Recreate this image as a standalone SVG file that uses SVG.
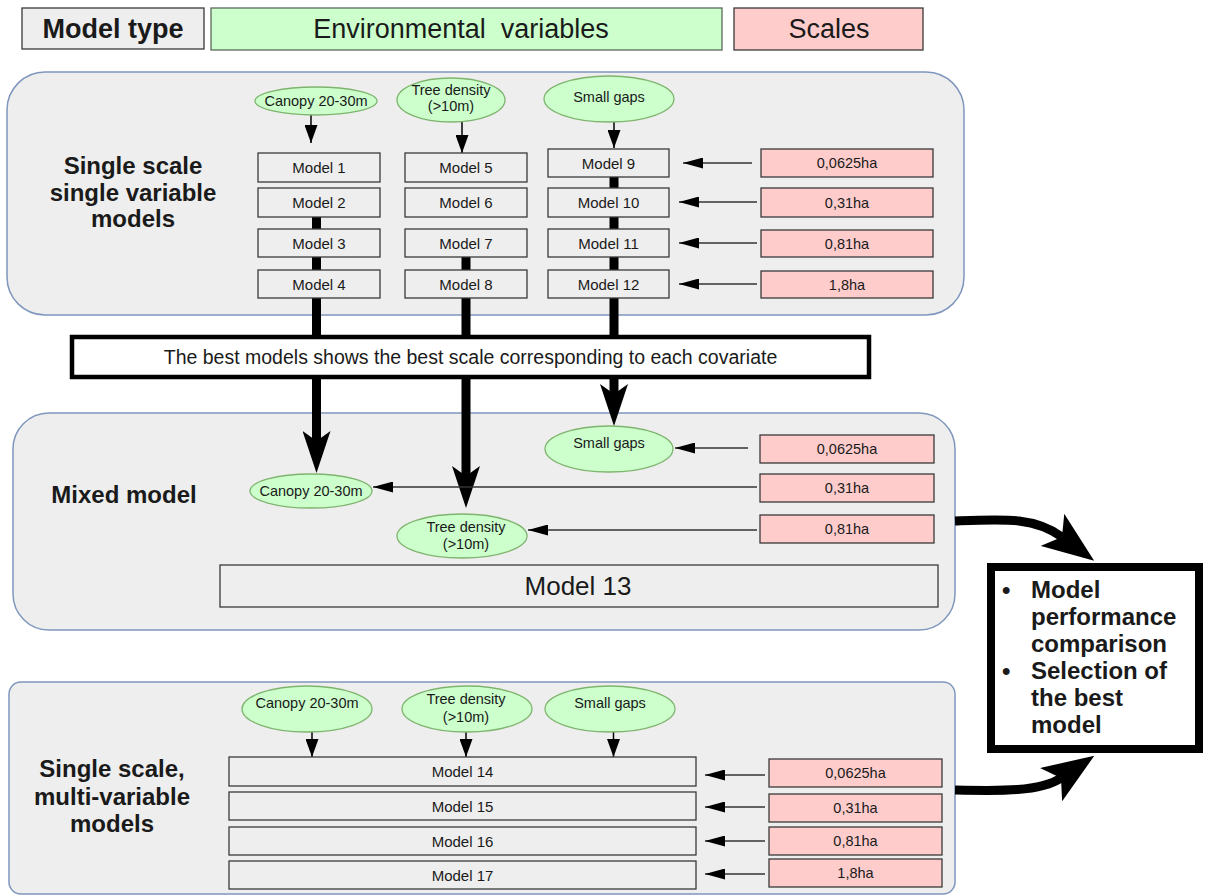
<svg xmlns="http://www.w3.org/2000/svg" width="1206" height="896" viewBox="0 0 1206 896">
<style>
.panel{fill:#eeeeee;stroke:#7f97bd;stroke-width:1.5}
.box{fill:#eeeeee;stroke:#3a3a3a;stroke-width:1.3}
.scale{fill:#ffcccc;stroke:#3a3a3a;stroke-width:1.3}
.var{fill:#ccffcc;stroke:#7fb46e;stroke-width:1.3}
text{font-family:"Liberation Sans",Arial,sans-serif;fill:#1a1a1a}
.tm{font-size:15px;text-anchor:middle}
.ts{font-size:14.5px;text-anchor:middle}
.te{font-size:14.5px;text-anchor:middle}
.lbl{font-size:24px;font-weight:bold;text-anchor:middle}
.hd{font-size:27px;text-anchor:middle}
.thin{stroke:#333;stroke-width:1.5;fill:none}
.thick{stroke:#000;stroke-width:9;fill:none}
</style>
<defs>
<marker id="sa" markerUnits="userSpaceOnUse" markerWidth="18" markerHeight="13" viewBox="0 0 18 13" refX="18" refY="6.5" orient="auto"><path d="M0,0 L18,6.5 L0,13 z" fill="#000"/></marker>
<marker id="ha" markerUnits="userSpaceOnUse" markerWidth="20" markerHeight="11" viewBox="0 0 20 11" refX="20" refY="5.5" orient="auto"><path d="M0,0 L20,5.5 L0,11 z" fill="#000"/></marker>
<marker id="big" markerUnits="userSpaceOnUse" markerWidth="42" markerHeight="28" viewBox="0 0 42 28" refX="10" refY="14" orient="auto"><path d="M0,0 L42,14 L0,28 L10,14 z" fill="#000"/></marker>
<marker id="big2" markerUnits="userSpaceOnUse" markerWidth="52" markerHeight="40" viewBox="0 0 52 40" refX="12" refY="20" orient="auto"><path d="M0,0 L52,20 L0,40 L12,20 z" fill="#000"/></marker>
</defs>
<rect width="1206" height="896" fill="#ffffff"/>

<g id="header">
<rect x="22" y="8" width="182" height="41" class="box"/>
<text class="hd" x="113" y="38" style="font-weight:bold">Model type</text>
<rect x="211" y="8" width="511" height="42" class="var" style="stroke:#5a6a5a"/>
<text class="hd" x="461" y="38">Environmental&#160; variables</text>
<rect x="734" y="8" width="189" height="42" class="scale"/>
<text class="hd" x="829" y="38">Scales</text>
</g>

<g id="panel1">
<rect x="7" y="72" width="957" height="243" rx="38" ry="38" class="panel"/>
<text class="lbl" x="133" y="174">Single scale</text>
<text class="lbl" x="133" y="201">single variable</text>
<text class="lbl" x="133" y="227">models</text>
</g>

<g id="panel2">
<rect x="13" y="413" width="942" height="217" rx="36" ry="36" class="panel"/>
<text class="lbl" x="124" y="503">Mixed model</text>
</g>

<g id="panel3">
<rect x="9" y="682" width="946" height="212" rx="12" ry="12" class="panel"/>
<text class="lbl" x="112" y="777">Single scale,</text>
<text class="lbl" x="112" y="805">multi-variable</text>
<text class="lbl" x="112" y="832">models</text>
</g>

<g id="connectors">
<path class="thick" d="M316.5,217 V340"/>
<path class="thick" d="M466,257 V340"/>
<path class="thick" d="M614,177 V340"/>
<path class="thick" d="M316.5,375 V441" marker-end="url(#big)"/>
<path class="thick" d="M466,375 V476" marker-end="url(#big)"/>
<path class="thick" d="M614,375 V394" marker-end="url(#big)"/>
<path class="thin" style="stroke:#000" d="M311,115 V143" marker-end="url(#sa)"/>
<path class="thin" style="stroke:#000" d="M462,122 V153" marker-end="url(#sa)"/>
<path class="thin" style="stroke:#000" d="M614,122 V148" marker-end="url(#sa)"/>
<path class="thin" d="M752,163 H683" marker-end="url(#ha)"/>
<path class="thin" d="M757,202 H679" marker-end="url(#ha)"/>
<path class="thin" d="M757,243 H679" marker-end="url(#ha)"/>
<path class="thin" d="M757,284 H679" marker-end="url(#ha)"/>
<path class="thin" d="M748,448 H675" marker-end="url(#ha)"/>
<path class="thin" d="M757,487 H373" marker-end="url(#ha)"/>
<path class="thin" d="M757,530 H528" marker-end="url(#ha)"/>
<path class="thin" style="stroke:#000" d="M312,732 V757" marker-end="url(#sa)"/>
<path class="thin" style="stroke:#000" d="M466,732 V757" marker-end="url(#sa)"/>
<path class="thin" style="stroke:#000" d="M613.5,732 V757" marker-end="url(#sa)"/>
<path class="thin" d="M765,775 H705" marker-end="url(#ha)"/>
<path class="thin" d="M765,807 H705" marker-end="url(#ha)"/>
<path class="thin" d="M765,841 H705" marker-end="url(#ha)"/>
<path class="thin" d="M765,874 H705" marker-end="url(#ha)"/>
<path class="thick" d="M955,521 C1005,519 1035,517 1062,537" marker-end="url(#big2)"/>
<path class="thick" d="M955,790 C1000,791 1040,792 1061,778" marker-end="url(#big2)"/>
</g>

<g id="best">
<rect x="72" y="337" width="797" height="40" fill="#ffffff" stroke="#000" stroke-width="4.5"/>
<text x="470.5" y="364" style="font-size:19.5px;text-anchor:middle">The best models shows the best scale corresponding to each covariate</text>
</g>

<g id="p1-vars">
<ellipse cx="316" cy="101" rx="61" ry="14" class="var"/>
<text class="te" x="316" y="106">Canopy 20-30m</text>
<ellipse cx="451" cy="100" rx="54" ry="22" class="var"/>
<text class="te" x="451" y="95">Tree density</text>
<text class="te" x="451" y="111">(&gt;10m)</text>
<ellipse cx="609" cy="99" rx="65" ry="23" class="var"/>
<text class="te" x="609" y="102">Small gaps</text>
</g>

<g id="p1-models">
<rect x="258" y="153" width="122" height="29" class="box"/><text class="tm" x="319" y="173">Model 1</text>
<rect x="258" y="188" width="122" height="29" class="box"/><text class="tm" x="319" y="208">Model 2</text>
<rect x="258" y="229" width="122" height="28" class="box"/><text class="tm" x="319" y="248.5">Model 3</text>
<rect x="258" y="270" width="122" height="28" class="box"/><text class="tm" x="319" y="289.5">Model 4</text>
<rect x="405" y="153" width="122" height="29" class="box"/><text class="tm" x="466" y="173">Model 5</text>
<rect x="405" y="188" width="122" height="29" class="box"/><text class="tm" x="466" y="208">Model 6</text>
<rect x="405" y="229" width="122" height="28" class="box"/><text class="tm" x="466" y="248.5">Model 7</text>
<rect x="405" y="270" width="122" height="28" class="box"/><text class="tm" x="466" y="289.5">Model 8</text>
<rect x="548" y="149" width="121" height="28" class="box"/><text class="tm" x="608.5" y="168.5">Model 9</text>
<rect x="548" y="188" width="121" height="29" class="box"/><text class="tm" x="608.5" y="208">Model 10</text>
<rect x="548" y="229" width="121" height="28" class="box"/><text class="tm" x="608.5" y="248.5">Model 11</text>
<rect x="548" y="270" width="121" height="28" class="box"/><text class="tm" x="608.5" y="289.5">Model 12</text>
</g>

<g id="p1-scales">
<rect x="761" y="149" width="172" height="28" class="scale"/><text class="ts" x="847" y="168">0,0625ha</text>
<rect x="761" y="188" width="172" height="29" class="scale"/><text class="ts" x="847" y="207.5">0,31ha</text>
<rect x="761" y="230" width="172" height="27" class="scale"/><text class="ts" x="847" y="248.5">0,81ha</text>
<rect x="761" y="271" width="172" height="27" class="scale"/><text class="ts" x="847" y="289.5">1,8ha</text>
</g>

<g id="p2-vars">
<ellipse cx="609" cy="449" rx="64" ry="23" class="var"/>
<text class="te" x="609" y="448">Small gaps</text>
<ellipse cx="311" cy="491" rx="61" ry="17" class="var"/>
<text class="te" x="311" y="496">Canopy 20-30m</text>
<ellipse cx="462" cy="536" rx="65" ry="22" class="var"/>
<text class="te" x="466" y="532">Tree density</text>
<text class="te" x="466" y="549">(&gt;10m)</text>
</g>

<g id="p2-scales">
<rect x="760" y="435" width="174" height="28" class="scale"/><text class="ts" x="847" y="454">0,0625ha</text>
<rect x="760" y="474" width="174" height="28" class="scale"/><text class="ts" x="847" y="493">0,31ha</text>
<rect x="760" y="515" width="174" height="28" class="scale"/><text class="ts" x="847" y="534">0,81ha</text>
</g>

<g id="model13">
<rect x="220" y="565" width="718" height="42" class="box"/>
<text x="578" y="595" style="font-size:26px;text-anchor:middle">Model 13</text>
</g>

<g id="p3-vars">
<ellipse cx="307" cy="709" rx="65" ry="23" class="var"/>
<text class="te" x="307" y="708">Canopy 20-30m</text>
<ellipse cx="467" cy="709" rx="65" ry="23" class="var"/>
<text class="te" x="466" y="704">Tree density</text>
<text class="te" x="466" y="722">(&gt;10m)</text>
<ellipse cx="610" cy="709" rx="65" ry="23" class="var"/>
<text class="te" x="610" y="708">Small gaps</text>
</g>

<g id="p3-models">
<rect x="229" y="757" width="467" height="29" class="box"/><text class="tm" x="462.5" y="776.5">Model 14</text>
<rect x="229" y="792" width="467" height="28" class="box"/><text class="tm" x="462.5" y="811.5">Model 15</text>
<rect x="229" y="827" width="467" height="28" class="box"/><text class="tm" x="462.5" y="846.5">Model 16</text>
<rect x="229" y="861" width="467" height="28" class="box"/><text class="tm" x="462.5" y="880.5">Model 17</text>
</g>

<g id="p3-scales">
<rect x="769" y="759" width="173" height="28" class="scale"/><text class="ts" x="855.5" y="778">0,0625ha</text>
<rect x="769" y="794" width="173" height="28" class="scale"/><text class="ts" x="855.5" y="813">0,31ha</text>
<rect x="769" y="827" width="173" height="28" class="scale"/><text class="ts" x="855.5" y="846">0,81ha</text>
<rect x="769" y="859" width="173" height="28" class="scale"/><text class="ts" x="855.5" y="878">1,8ha</text>
</g>

<g id="result">
<rect x="991" y="567" width="208" height="182" fill="#ffffff" stroke="#000" stroke-width="8"/>
<g style="font-size:24px;font-weight:bold">
<text x="1002" y="598">•</text>
<text x="1031" y="598">Model</text>
<text x="1031" y="625">performance</text>
<text x="1031" y="652">comparison</text>
<text x="1002" y="679">•</text>
<text x="1031" y="679">Selection of</text>
<text x="1031" y="706">the best</text>
<text x="1031" y="733">model</text>
</g>
</g>
</svg>
